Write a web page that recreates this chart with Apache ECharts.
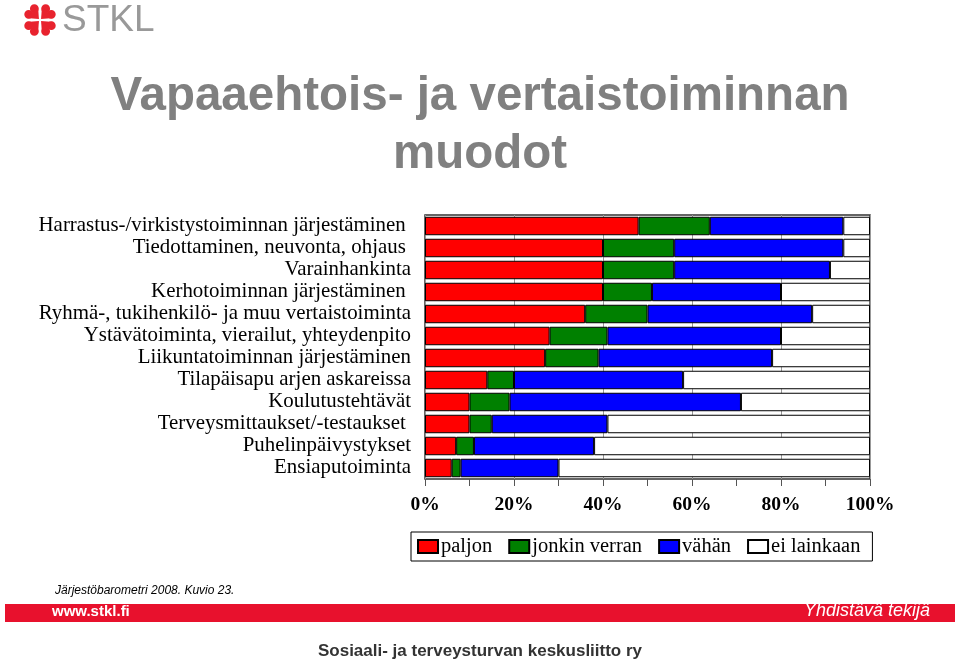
<!DOCTYPE html>
<html>
<head>
<meta charset="utf-8">
<script src="https://cdn.jsdelivr.net/npm/echarts@6/dist/echarts.min.js"></script>
<style>
html,body{margin:0;padding:0;background:#fff;}
#main{width:960px;height:665px;}
</style>
</head>
<body>
<div id="main"></div>
<script>
var categories = [
  'Harrastus-/virkistystoiminnan järjestäminen ',
  'Tiedottaminen, neuvonta, ohjaus ',
  'Varainhankinta',
  'Kerhotoiminnan järjestäminen ',
  'Ryhmä-, tukihenkilö- ja muu vertaistoiminta',
  'Ystävätoiminta, vierailut, yhteydenpito',
  'Liikuntatoiminnan järjestäminen',
  'Tilapäisapu arjen askareissa',
  'Koulutustehtävät',
  'Terveysmittaukset/-testaukset ',
  'Puhelinpäivystykset',
  'Ensiaputoiminta'
];
var seriesNames = ['paljon', 'jonkin verran', 'vähän', 'ei lainkaan'];
var paljon      = [48, 40, 40, 40, 36, 28, 27, 14, 10, 10, 7, 6];
var jonkin      = [16, 16, 16, 11, 14, 13, 12, 6, 9, 5, 4, 2];
var vahan       = [30, 38, 35, 29, 37, 39, 39, 38, 52, 26, 27, 22];
var eiLainkaan  = [6, 6, 9, 20, 13, 20, 22, 42, 29, 59, 62, 70];
var colors = ['#ff0000', '#008000', '#0000ff', '#ffffff'];

var chart = echarts.init(document.getElementById('main'), null, {renderer: 'canvas'});
var serif = '"Liberation Serif", "Times New Roman", serif';
var sans = '"Liberation Sans", Arial, sans-serif';

function mkSeries(name, data, color) {
  return {
    name: name, type: 'bar', stack: 'total', data: data,
    xAxisIndex: 0, yAxisIndex: 0,
    barCategoryGap: '16%',
    itemStyle: {color: color, borderColor: '#000', borderWidth: 1},
    emphasis: {disabled: true}
  };
}

function heart(rot) {
  var red = '#e8232e';
  return {
    type: 'group', x: 40, y: 20, rotation: rot,
    children: [
      {type: 'circle', shape: {cx: -4, cy: -12, r: 4.4}, style: {fill: red}},
      {type: 'circle', shape: {cx: 4, cy: -12, r: 4.4}, style: {fill: red}},
      {type: 'polygon', shape: {points: [[-8.2, -11], [8.2, -11], [0, -1.5]]}, style: {fill: red}}
    ]
  };
}

var option = {
  backgroundColor: '#fff',
  animation: false,
  color: colors,
  grid: {
    left: 425, right: 90, top: 215, height: 264,
    show: true, borderColor: '#333', borderWidth: 1.5, backgroundColor: '#fff'
  },
  legend: {
    left: 411, top: 532,
    padding: [4, 12, 4, 6],
    borderColor: '#000', borderWidth: 1,
    icon: 'rect',
    itemWidth: 20, itemHeight: 13, itemGap: 16,
    textStyle: {fontFamily: serif, fontSize: 20.5, color: '#000', padding: [0, 0, 0, -2]},
    data: seriesNames
  },
  xAxis: [
    {
      type: 'value', min: 0, max: 100, interval: 20, position: 'bottom',
      axisLine: {show: false},
      axisTick: {show: false},
      splitLine: {show: true, lineStyle: {color: '#999', width: 1}},
      axisLabel: {formatter: '{value}%', margin: 16, fontFamily: serif, fontWeight: 'bold', fontSize: 19.5, color: '#000'}
    },
    {
      type: 'value', min: 0, max: 100, interval: 10, position: 'bottom',
      axisLine: {show: false},
      axisTick: {show: true, length: 7, lineStyle: {color: '#555', width: 1}},
      splitLine: {show: false},
      axisLabel: {show: false}
    }
  ],
  yAxis: {
    type: 'category', data: categories, inverse: true,
    axisLine: {show: false}, axisTick: {show: false},
    axisLabel: {interval: 0, margin: 14, fontFamily: serif, fontSize: 20.9, color: '#000'}
  },
  series: [
    mkSeries(seriesNames[0], paljon, colors[0]),
    mkSeries(seriesNames[1], jonkin, colors[1]),
    mkSeries(seriesNames[2], vahan, colors[2]),
    mkSeries(seriesNames[3], eiLainkaan, colors[3])
  ],
  graphic: [
    // title
    {type: 'text', x: 480, y: 97, style: {text: 'Vapaaehtois- ja vertaistoiminnan', textAlign: 'center', textVerticalAlign: 'middle', fontFamily: sans, fontWeight: 'bold', fontSize: 47.5, fill: '#808080'}},
    {type: 'text', x: 480, y: 155, style: {text: 'muodot', textAlign: 'center', textVerticalAlign: 'middle', fontFamily: sans, fontWeight: 'bold', fontSize: 47.5, fill: '#808080'}},
    // logo clover
    heart(Math.PI / 4), heart(-Math.PI / 4), heart(3 * Math.PI / 4), heart(-3 * Math.PI / 4),
    {type: 'text', left: 62, top: 2, style: {text: 'STKL', fontFamily: sans, fontSize: 37, fill: '#999999'}},
    // source note
    {type: 'text', left: 55, top: 585, style: {text: 'Järjestöbarometri 2008. Kuvio 23.', fontFamily: sans, fontStyle: 'italic', fontSize: 12, fill: '#000'}},
    // red band
    {type: 'rect', shape: {x: 5, y: 604, width: 950, height: 18}, style: {fill: '#e8112d'}},
    {type: 'text', left: 52, top: 604, style: {text: 'www.stkl.fi', fontFamily: sans, fontWeight: 'bold', fontSize: 15, fill: '#fff'}},
    {type: 'text', right: 30, top: 602, style: {text: 'Yhdistävä tekijä', fontFamily: sans, fontStyle: 'italic', fontSize: 18, fill: '#fff'}},
    {type: 'text', left: 'center', top: 643, style: {text: 'Sosiaali- ja terveysturvan keskusliitto ry', fontFamily: sans, fontWeight: 'bold', fontSize: 17, fill: '#333'}}
  ]
};
chart.setOption(option);
</script>
</body>
</html>
